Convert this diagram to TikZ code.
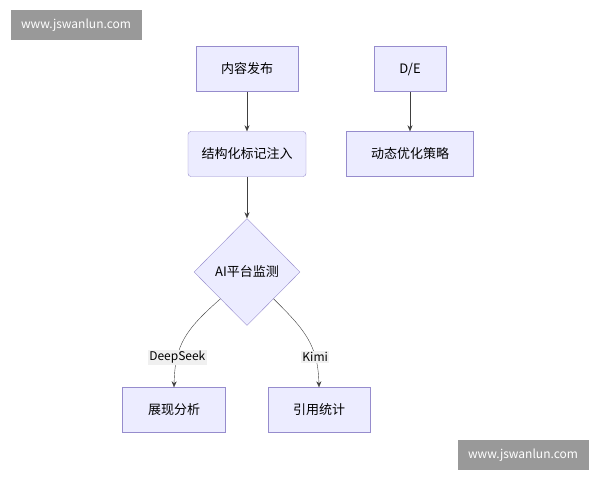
\documentclass[tikz,border=0pt]{standalone}
\usepackage{fontspec}
\setmainfont{Noto Sans CJK SC}
\usetikzlibrary{shapes.geometric,arrows.meta}
\definecolor{nodeline}{RGB}{150,140,205}
\definecolor{nodefill}{RGB}{236,236,255}
\begin{document}
\begin{tikzpicture}[x=1pt,y=-1pt,
    box/.style={draw=nodeline,fill=nodefill,minimum height=45pt,inner sep=0pt,font=\fontsize{13}{15}\selectfont},
    dia/.style={diamond,draw=nodeline,fill=nodefill,minimum width=106pt,minimum height=107pt,inner sep=0pt,font=\fontsize{13}{15}\selectfont},
    flow/.style={draw=black!75,-{Stealth[length=6pt,width=5pt]}},
    elabel/.style={fill=black!6,inner sep=1.5pt,font=\fontsize{12}{14}\selectfont},
    wmark/.style={fill=black!40,text=white,minimum width=131pt,minimum height=30pt,inner sep=0pt,font=\fontsize{12}{14}\selectfont}]
  \useasboundingbox (0,0) rectangle (600,480);
  \fill[white] (0,0) rectangle (600,480);

  % Watermarks
  \node[wmark] (wmA) at (76,25) {www.jswanlun.com};
  \node[wmark] (wmB) at (523,455) {www.jswanlun.com};

  % Nodes
  \node[box,minimum width=102pt] (publish) at (247,69) {内容发布};
  \node[box,minimum width=118pt,rounded corners=3pt] (markup) at (247,154) {结构化标记注入};
  \node[dia] (monitor) at (247,272) {AI平台监测};
  \node[box,minimum width=103pt] (show) at (174,410) {展现分析};
  \node[box,minimum width=102pt] (cite) at (319,410) {引用统计};
  \node[box,minimum width=72pt] (de) at (410,69) {D/E};
  \node[box,minimum width=127pt] (tune) at (410,154) {动态优化策略};

  % Connectors
  \draw[flow] (publish) -- (markup);
  \draw[flow] (markup) -- (monitor);
  \draw[flow] (de) -- (tune);
  \draw[flow] (monitor.south west) .. controls (185,330) and (175,345) .. node[pos=0.72,elabel] {DeepSeek} (show.north);
  \draw[flow] (monitor.south east) .. controls (305,330) and (318,345) .. node[pos=0.72,elabel] {Kimi} (cite.north);
\end{tikzpicture}
\end{document}
